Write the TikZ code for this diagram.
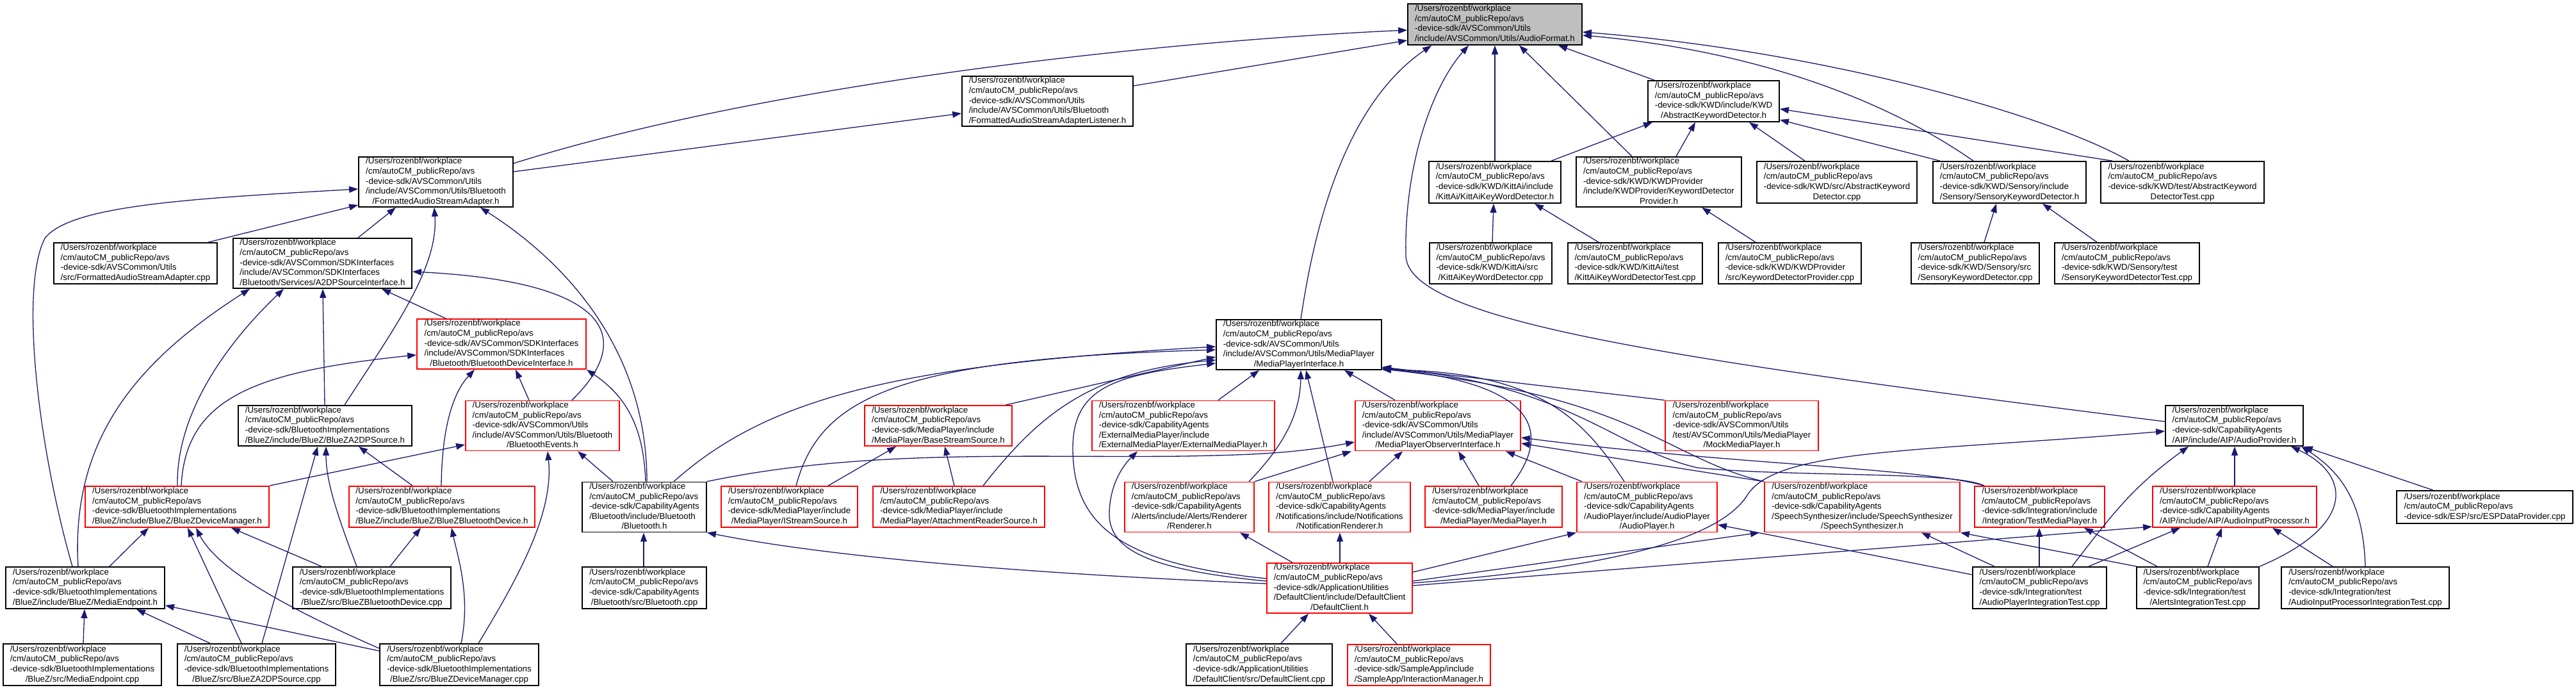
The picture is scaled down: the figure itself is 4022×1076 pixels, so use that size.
\documentclass[tikz,border=0pt]{standalone}
\usepackage{fontspec}
\setmainfont{Liberation Sans}
\usetikzlibrary{arrows.meta}
\definecolor{edgeblue}{HTML}{191970}
\definecolor{nodered}{HTML}{FF0000}
\definecolor{rootgray}{HTML}{BFBFBF}
\newcommand{\dlab}[2]{\begin{tabular}{@{}l@{}}#1\\\multicolumn{1}{@{}c@{}}{#2}\end{tabular}}
\newcommand{\pfx}{/Users/rozenbf/workplace\\/cm/autoCM\_publicRepo/avs}
\tikzset{
  blkbox/.style={draw=black, line width=1.8pt, fill=white, inner xsep=2pt, inner ysep=0pt,
    font={\fontsize{13.3pt}{15.6pt}\selectfont}},
  redbox/.style={blkbox, draw=nodered},
  rootbox/.style={blkbox, fill=rootgray},
  depedge/.style={draw=edgeblue, line width=1.3pt, -{Triangle[length=14pt,width=10pt]}}
}
\begin{document}
\begin{tikzpicture}[x=1pt,y=-1pt]
\useasboundingbox (0,0) rectangle (4022,1076);
% ---------- nodes ----------
\node[rootbox, minimum width=272pt, minimum height=64pt] (root) at (2334,38) {\dlab{\pfx\\-device-sdk/AVSCommon/Utils}{/include/AVSCommon/Utils/AudioFormat.h}};
\node[blkbox, minimum width=267pt, minimum height=78pt] (fasal) at (1635.5,158) {\dlab{\pfx\\-device-sdk/AVSCommon/Utils\\/include/AVSCommon/Utils/Bluetooth}{/FormattedAudioStreamAdapterListener.h}};
\node[blkbox, minimum width=205pt, minimum height=64pt] (akd) at (2675.5,158) {\dlab{\pfx\\-device-sdk/KWD/include/KWD}{/AbstractKeywordDetector.h}};
\node[blkbox, minimum width=241pt, minimum height=78pt] (fasa) at (680.5,284) {\dlab{\pfx\\-device-sdk/AVSCommon/Utils\\/include/AVSCommon/Utils/Bluetooth}{/FormattedAudioStreamAdapter.h}};
\node[blkbox, minimum width=206pt, minimum height=65pt] (kitth) at (2334,284.5) {\dlab{\pfx\\-device-sdk/KWD/KittAi/include}{/KittAi/KittAiKeyWordDetector.h}};
\node[blkbox, minimum width=258pt, minimum height=78pt] (kwdp) at (2590,284) {\dlab{\pfx\\-device-sdk/KWD/KWDProvider\\/include/KWDProvider/KeywordDetector}{Provider.h}};
\node[blkbox, minimum width=250pt, minimum height=65pt] (akdcpp) at (2868,284.5) {\dlab{\pfx\\-device-sdk/KWD/src/AbstractKeyword}{Detector.cpp}};
\node[blkbox, minimum width=239pt, minimum height=65pt] (skdh) at (3137.5,284.5) {\dlab{\pfx\\-device-sdk/KWD/Sensory/include}{/Sensory/SensoryKeywordDetector.h}};
\node[blkbox, minimum width=255pt, minimum height=65pt] (akdtest) at (3407.5,284.5) {\dlab{\pfx\\-device-sdk/KWD/test/AbstractKeyword}{DetectorTest.cpp}};
\node[blkbox, minimum width=255pt, minimum height=64pt] (fasacpp) at (211.5,411) {\dlab{\pfx\\-device-sdk/AVSCommon/Utils}{/src/FormattedAudioStreamAdapter.cpp}};
\node[blkbox, minimum width=279pt, minimum height=78pt] (a2dpsi) at (503.5,411) {\dlab{\pfx\\-device-sdk/AVSCommon/SDKInterfaces\\/include/AVSCommon/SDKInterfaces}{/Bluetooth/Services/A2DPSourceInterface.h}};
\node[blkbox, minimum width=191pt, minimum height=64pt] (kittcpp) at (2327.5,411) {\dlab{\pfx\\-device-sdk/KWD/KittAi/src}{/KittAiKeyWordDetector.cpp}};
\node[blkbox, minimum width=210pt, minimum height=64pt] (kitttest) at (2553,411) {\dlab{\pfx\\-device-sdk/KWD/KittAi/test}{/KittAiKeyWordDetectorTest.cpp}};
\node[blkbox, minimum width=223pt, minimum height=64pt] (kdpcpp) at (2794.5,411) {\dlab{\pfx\\-device-sdk/KWD/KWDProvider}{/src/KeywordDetectorProvider.cpp}};
\node[blkbox, minimum width=200pt, minimum height=64pt] (skdcpp) at (3084,411) {\dlab{\pfx\\-device-sdk/KWD/Sensory/src}{/SensoryKeywordDetector.cpp}};
\node[blkbox, minimum width=226pt, minimum height=64pt] (skdtest) at (3321,411) {\dlab{\pfx\\-device-sdk/KWD/Sensory/test}{/SensoryKeywordDetectorTest.cpp}};
\node[redbox, minimum width=264pt, minimum height=78pt] (bdi) at (783,537) {\dlab{\pfx\\-device-sdk/AVSCommon/SDKInterfaces\\/include/AVSCommon/SDKInterfaces}{/Bluetooth/BluetoothDeviceInterface.h}};
\node[blkbox, minimum width=258pt, minimum height=78pt] (mpi) at (2028,538) {\dlab{\pfx\\-device-sdk/AVSCommon/Utils\\/include/AVSCommon/Utils/MediaPlayer}{/MediaPlayerInterface.h}};
\node[blkbox, minimum width=271pt, minimum height=63pt] (a2dph) at (507.5,664.5) {\dlab{\pfx\\-device-sdk/BluetoothImplementations}{/BlueZ/include/BlueZ/BlueZA2DPSource.h}};
\node[redbox, minimum width=240pt, minimum height=77pt] (bevents) at (847,664.5) {\dlab{\pfx\\-device-sdk/AVSCommon/Utils\\/include/AVSCommon/Utils/Bluetooth}{/BluetoothEvents.h}};
\node[redbox, minimum width=230pt, minimum height=63pt] (bss) at (1465,664.5) {\dlab{\pfx\\-device-sdk/MediaPlayer/include}{/MediaPlayer/BaseStreamSource.h}};
\node[redbox, minimum width=285pt, minimum height=77pt] (emp) at (1847.5,664.5) {\dlab{\pfx\\-device-sdk/CapabilityAgents\\/ExternalMediaPlayer/include}{/ExternalMediaPlayer/ExternalMediaPlayer.h}};
\node[redbox, minimum width=258pt, minimum height=77pt] (mpo) at (2245,664.5) {\dlab{\pfx\\-device-sdk/AVSCommon/Utils\\/include/AVSCommon/Utils/MediaPlayer}{/MediaPlayerObserverInterface.h}};
\node[redbox, minimum width=239pt, minimum height=77pt] (mock) at (2719.5,664.5) {\dlab{\pfx\\-device-sdk/AVSCommon/Utils\\/test/AVSCommon/Utils/MediaPlayer}{/MockMediaPlayer.h}};
\node[blkbox, minimum width=215pt, minimum height=63pt] (aprov) at (3488.5,664.5) {\dlab{\pfx\\-device-sdk/CapabilityAgents}{/AIP/include/AIP/AudioProvider.h}};
\node[redbox, minimum width=287pt, minimum height=64pt] (dmh) at (276.5,791) {\dlab{\pfx\\-device-sdk/BluetoothImplementations}{/BlueZ/include/BlueZ/BlueZDeviceManager.h}};
\node[redbox, minimum width=290pt, minimum height=64pt] (bbdh) at (690,791) {\dlab{\pfx\\-device-sdk/BluetoothImplementations}{/BlueZ/include/BlueZ/BlueZBluetoothDevice.h}};
\node[blkbox, minimum width=194pt, minimum height=77pt] (bth) at (1006,791.5) {\dlab{\pfx\\-device-sdk/CapabilityAgents\\/Bluetooth/include/Bluetooth}{/Bluetooth.h}};
\node[redbox, minimum width=213pt, minimum height=64pt] (issh) at (1232.5,791) {\dlab{\pfx\\-device-sdk/MediaPlayer/include}{/MediaPlayer/IStreamSource.h}};
\node[redbox, minimum width=268pt, minimum height=64pt] (arsh) at (1497,791) {\dlab{\pfx\\-device-sdk/MediaPlayer/include}{/MediaPlayer/AttachmentReaderSource.h}};
\node[redbox, minimum width=202pt, minimum height=77pt] (rendh) at (1857,791.5) {\dlab{\pfx\\-device-sdk/CapabilityAgents\\/Alerts/include/Alerts/Renderer}{/Renderer.h}};
\node[redbox, minimum width=221pt, minimum height=77pt] (nrh) at (2091.5,791.5) {\dlab{\pfx\\-device-sdk/CapabilityAgents\\/Notifications/include/Notifications}{/NotificationRenderer.h}};
\node[redbox, minimum width=214pt, minimum height=64pt] (mph) at (2332,791) {\dlab{\pfx\\-device-sdk/MediaPlayer/include}{/MediaPlayer/MediaPlayer.h}};
\node[redbox, minimum width=219pt, minimum height=77pt] (aph) at (2571.5,791.5) {\dlab{\pfx\\-device-sdk/CapabilityAgents\\/AudioPlayer/include/AudioPlayer}{/AudioPlayer.h}};
\node[redbox, minimum width=305pt, minimum height=77pt] (ssh) at (2907.5,791.5) {\dlab{\pfx\\-device-sdk/CapabilityAgents\\/SpeechSynthesizer/include/SpeechSynthesizer}{/SpeechSynthesizer.h}};
\node[redbox, minimum width=203pt, minimum height=64pt] (tmph) at (3184.5,791) {\dlab{\pfx\\-device-sdk/Integration/include}{/Integration/TestMediaPlayer.h}};
\node[redbox, minimum width=256pt, minimum height=64pt] (aiph) at (3489,791) {\dlab{\pfx\\-device-sdk/CapabilityAgents}{/AIP/include/AIP/AudioInputProcessor.h}};
\node[blkbox, minimum width=275pt, minimum height=51pt] (esp) at (3879.5,791.5) {\dlab{\pfx}{-device-sdk/ESP/src/ESPDataProvider.cpp}};
\node[blkbox, minimum width=248pt, minimum height=65pt] (meh) at (133,917.5) {\dlab{\pfx\\-device-sdk/BluetoothImplementations}{/BlueZ/include/BlueZ/MediaEndpoint.h}};
\node[blkbox, minimum width=247pt, minimum height=65pt] (bbdcpp) at (580.5,917.5) {\dlab{\pfx\\-device-sdk/BluetoothImplementations}{/BlueZ/src/BlueZBluetoothDevice.cpp}};
\node[blkbox, minimum width=194pt, minimum height=65pt] (btcpp) at (1006,917.5) {\dlab{\pfx\\-device-sdk/CapabilityAgents}{/Bluetooth/src/Bluetooth.cpp}};
\node[redbox, minimum width=227pt, minimum height=78pt] (dch) at (2091.5,918) {\dlab{\pfx\\-device-sdk/ApplicationUtilities\\/DefaultClient/include/DefaultClient}{/DefaultClient.h}};
\node[blkbox, minimum width=209pt, minimum height=65pt] (apit) at (3184.5,917.5) {\dlab{\pfx\\-device-sdk/Integration/test}{/AudioPlayerIntegrationTest.cpp}};
\node[blkbox, minimum width=191pt, minimum height=65pt] (ait) at (3431.5,917.5) {\dlab{\pfx\\-device-sdk/Integration/test}{/AlertsIntegrationTest.cpp}};
\node[blkbox, minimum width=262pt, minimum height=65pt] (aipit) at (3693,917.5) {\dlab{\pfx\\-device-sdk/Integration/test}{/AudioInputProcessorIntegrationTest.cpp}};
\node[blkbox, minimum width=247pt, minimum height=65pt] (mecpp) at (128.5,1037.5) {\dlab{\pfx\\-device-sdk/BluetoothImplementations}{/BlueZ/src/MediaEndpoint.cpp}};
\node[blkbox, minimum width=247pt, minimum height=65pt] (a2dpcpp) at (400.5,1037.5) {\dlab{\pfx\\-device-sdk/BluetoothImplementations}{/BlueZ/src/BlueZA2DPSource.cpp}};
\node[blkbox, minimum width=248pt, minimum height=65pt] (dmcpp) at (717,1037.5) {\dlab{\pfx\\-device-sdk/BluetoothImplementations}{/BlueZ/src/BlueZDeviceManager.cpp}};
\node[blkbox, minimum width=228pt, minimum height=65pt] (dccpp) at (1966,1037.5) {\dlab{\pfx\\-device-sdk/ApplicationUtilities}{/DefaultClient/src/DefaultClient.cpp}};
\node[redbox, minimum width=223pt, minimum height=64pt] (imh) at (2215.5,1038) {\dlab{\pfx\\-device-sdk/SampleApp/include}{/SampleApp/InteractionManager.h}};
% ---------- edges: root ----------
\draw[depedge] (fasa.east |- 0,255) .. controls (1200,130) and (1800,65) .. (root.west |- 0,47);
\draw[depedge] (fasal.east |- 0,134) -- (root.west |- 0,63);
\draw[depedge] (fasa.east |- 0,268) -- (fasal.west |- 0,177);
\draw[depedge] (2031,0 |- mpi.north) .. controls (2060,300) and (2120,150) .. (2235,0 |- root.south);
\draw[depedge] (aprov.west |- 0,658) .. controls (2600,560) and (2200,500) .. (2195,400) .. controls (2192,250) and (2240,130) .. (2293,0 |- root.south);
\draw[depedge] (kitth.north) -- (root.south);
\draw[depedge] (2548,0 |- kwdp.north) -- (2372,0 |- root.south);
\draw[depedge] (2583,0 |- akd.north) -- (2433,0 |- root.south);
\draw[depedge] (3081,0 |- skdh.north) .. controls (2950,160) and (2750,80) .. (root.east |- 0,55);
\draw[depedge] (3324,0 |- akdtest.north) .. controls (3200,180) and (2850,80) .. (root.east |- 0,50);
% ---------- KWD ----------
\draw[depedge] (2422,0 |- kitth.north) -- (2580,0 |- akd.south);
\draw[depedge] (2617,0 |- kwdp.north) -- (2647,0 |- akd.south);
\draw[depedge] (2818,0 |- akdcpp.north) -- (2731,0 |- akd.south);
\draw[depedge] (3029,0 |- skdh.north) -- (akd.east |- 0,187);
\draw[depedge] (3298,0 |- akdtest.north) -- (akd.east |- 0,170);
\draw[depedge] (2330,0 |- kittcpp.north) -- (2332,0 |- kitth.south);
\draw[depedge] (2496,0 |- kitttest.north) -- (2396,0 |- kitth.south);
\draw[depedge] (2741,0 |- kdpcpp.north) -- (2657,0 |- kwdp.south);
\draw[depedge] (3098,0 |- skdcpp.north) -- (3117,0 |- skdh.south);
\draw[depedge] (3274,0 |- skdtest.north) -- (3189,0 |- skdh.south);
% ---------- FormattedAudioStreamAdapter.h ----------
\draw[depedge] (113,0 |- meh.north) .. controls (60,700) and (30,450) .. (70,372) .. controls (110,320) and (300,310) .. (fasa.west |- 0,295);
\draw[depedge] (325,0 |- fasacpp.north) -- (fasa.west |- 0,320);
\draw[depedge] (559,0 |- a2dpsi.north) -- (618,0 |- fasa.south);
\draw[depedge] (538,0 |- a2dph.north) .. controls (610,520) and (685,420) .. (678,0 |- fasa.south);
\draw[depedge] (1010,0 |- bth.north) .. controls (1010,560) and (900,420) .. (750,0 |- fasa.south);
% ---------- A2DPSourceInterface.h ----------
\draw[depedge] (122,0 |- meh.north) .. controls (110,680) and (220,560) .. (390,0 |- a2dpsi.south);
\draw[depedge] (277,0 |- dmh.north) .. controls (275,640) and (360,530) .. (443,0 |- a2dpsi.south);
\draw[depedge] (507,0 |- a2dph.north) -- (504,0 |- a2dpsi.south);
\draw[depedge] (696,0 |- bdi.north) -- (596,0 |- a2dpsi.south);
\draw[depedge] (893,0 |- bevents.north) .. controls (990,530) and (960,440) .. (a2dpsi.east |- 0,424);
% ---------- BluetoothDeviceInterface.h ----------
\draw[depedge] (283,0 |- dmh.north) .. controls (290,620) and (400,580) .. (bdi.west |- 0,554);
\draw[depedge] (689,0 |- bbdh.north) .. controls (690,660) and (710,610) .. (741,0 |- bdi.south);
\draw[depedge] (826,0 |- bevents.north) -- (805,0 |- bdi.south);
\draw[depedge] (1008,0 |- bth.north) .. controls (1005,670) and (980,620) .. (bdi.south east);
% ---------- BluetoothEvents.h ----------
\draw[depedge] (dmh.north east) -- (bevents.west |- 0,694);
\draw[depedge] (747,0 |- dmcpp.north) .. controls (810,900) and (865,800) .. (855,0 |- bevents.south);
\draw[depedge] (957,0 |- bth.north) -- (902,0 |- bevents.south);
% ---------- BlueZA2DPSource.h ----------
\draw[depedge] (409,0 |- a2dpcpp.north) -- (496,0 |- a2dph.south);
\draw[depedge] (557,0 |- bbdcpp.north) .. controls (525,800) and (509,750) .. (509,0 |- a2dph.south);
\draw[depedge] (644,0 |- bbdh.north) -- (560,0 |- a2dph.south);
% ---------- BlueZDeviceManager.h ----------
\draw[depedge] (171,0 |- meh.north) -- (232,0 |- dmh.south);
\draw[depedge] (377,0 |- a2dpcpp.north) -- (293,0 |- dmh.south);
\draw[depedge] (dmcpp.west |- 0,1012) .. controls (450,950) and (340,890) .. (306,0 |- dmh.south);
\draw[depedge] (502,0 |- bbdcpp.north) -- (361,0 |- dmh.south);
% ---------- BlueZBluetoothDevice.h ----------
\draw[depedge] (609,0 |- bbdcpp.north) -- (657,0 |- bbdh.south);
\draw[depedge] (720,0 |- dmcpp.north) .. controls (735,930) and (715,870) .. (705,0 |- bbdh.south);
% ---------- MediaEndpoint.h ----------
\draw[depedge] (130,0 |- mecpp.north) -- (132,0 |- meh.south);
\draw[depedge] (328,0 |- a2dpcpp.north) -- (213,0 |- meh.south);
\draw[depedge] (dmcpp.west |- 0,1016) -- (meh.east |- 0,945);
% ---------- Bluetooth.h ----------
\draw[depedge] (1005,0 |- btcpp.north) -- (1005,0 |- bth.south);
\draw[depedge] (dch.west |- 0,911) .. controls (1600,895) and (1300,870) .. (bth.south east);
% ---------- MediaPlayerInterface.h ----------
\draw[depedge] (1052,0 |- bth.north) .. controls (1200,620) and (1400,570) .. (mpi.west |- 0,541);
\draw[depedge] (1243,0 |- issh.north) .. controls (1280,620) and (1400,560) .. (mpi.west |- 0,546);
\draw[depedge] (1570,0 |- bss.north) -- (mpi.west |- 0,557);
\draw[depedge] (1535,0 |- arsh.north) .. controls (1620,650) and (1700,580) .. (mpi.west |- 0,562);
\draw[depedge] (dch.west |- 0,903) .. controls (1750,880) and (1675,820) .. (1675,700) .. controls (1675,605) and (1740,585) .. (mpi.west |- 0,567);
\draw[depedge] (1902,0 |- emp.north) -- (1966,0 |- mpi.south);
\draw[depedge] (1950,0 |- rendh.north) .. controls (2000,700) and (2030,650) .. (2031,0 |- mpi.south);
\draw[depedge] (2081,0 |- nrh.north) -- (2039,0 |- mpi.south);
\draw[depedge] (2178,0 |- mpo.north) -- (2099,0 |- mpi.south);
\draw[depedge] (mock.north west) -- (mpi.east |- 0,573);
\draw[depedge] (2359,0 |- mph.north) .. controls (2420,680) and (2410,600) .. (mpi.east |- 0,575);
\draw[depedge] (2536,0 |- aph.north) .. controls (2470,650) and (2400,580) .. (mpi.east |- 0,577);
\draw[depedge] (ssh.north west) .. controls (2600,715) and (2560,620) .. (mpi.east |- 0,576);
\draw[depedge] (3098,0 |- tmph.north) .. controls (3050,735) and (2800,745) .. (2650,730) .. controls (2520,700) and (2450,600) .. (mpi.east |- 0,574);
% ---------- MediaPlayerObserverInterface.h ----------
\draw[depedge] (bth.north east) .. controls (1350,700) and (1600,715) .. (1850,712) .. controls (1950,710) and (2020,708) .. (mpo.west |- 0,690);
\draw[depedge] (rendh.north east) -- (2110,0 |- mpo.south);
\draw[depedge] (2138,0 |- nrh.north) -- (2190,0 |- mpo.south);
\draw[depedge] (2309,0 |- mph.north) -- (2277,0 |- mpo.south);
\draw[depedge] (2470,0 |- aph.north) -- (2351,0 |- mpo.south);
\draw[depedge] (ssh.north west) -- (mpo.east |- 0,692);
\draw[depedge] (3098,0 |- tmph.north) .. controls (3000,730) and (2700,725) .. (mpo.east |- 0,683);
% ---------- BaseStreamSource.h ----------
\draw[depedge] (1293,0 |- issh.north) -- (1399,0 |- bss.south);
\draw[depedge] (1490,0 |- arsh.north) -- (1475,0 |- bss.south);
% ---------- DefaultClient.h includes ----------
\draw[depedge] (dch.west |- 0,907) .. controls (1800,890) and (1730,860) .. (1732,800) .. controls (1733,760) and (1750,730) .. (1776,0 |- emp.south);
\draw[depedge] (2018,0 |- dch.north) -- (1936,0 |- rendh.south);
\draw[depedge] (2092,0 |- dch.north) -- (2092,0 |- nrh.south);
\draw[depedge] (dch.east |- 0,893) -- (aph.south west);
\draw[depedge] (dch.east |- 0,907) -- (2747,0 |- ssh.south);
\draw[depedge] (dch.east |- 0,910) .. controls (2600,880) and (2700,820) .. (2730,770) .. controls (2780,700) and (3000,705) .. (aprov.west |- 0,673);
\draw[depedge] (dch.east |- 0,914) -- (aiph.west |- 0,822);
% ---------- integration tests ----------
\draw[depedge] (apit.west |- 0,897) -- (aph.east |- 0,819);
\draw[depedge] (3114,0 |- apit.north) -- (3000,0 |- ssh.south);
\draw[depedge] (3336,0 |- ait.north) -- (ssh.south east);
\draw[depedge] (3235,0 |- apit.north) .. controls (3300,800) and (3330,760) .. (3417,0 |- aprov.south);
\draw[depedge] (3489,0 |- aiph.north) -- (3489,0 |- aprov.south);
\draw[depedge] (3528,0 |- ait.north) .. controls (3680,820) and (3670,740) .. (3577,0 |- aprov.south);
\draw[depedge] (3693,0 |- aipit.north) .. controls (3690,790) and (3660,740) .. (3593,0 |- aprov.south);
\draw[depedge] (3799,0 |- esp.north) -- (aprov.south east);
\draw[depedge] (3261,0 |- apit.north) -- (3404,0 |- aiph.south);
\draw[depedge] (3447,0 |- ait.north) -- (3469,0 |- aiph.south);
\draw[depedge] (3642,0 |- aipit.north) -- (3548,0 |- aiph.south);
\draw[depedge] (3184,0 |- apit.north) -- (3184,0 |- tmph.south);
\draw[depedge] (3368,0 |- ait.north) -- (3254,0 |- tmph.south);
% ---------- DefaultClient.h included by ----------
\draw[depedge] (2000,0 |- dccpp.north) -- (2043,0 |- dch.south);
\draw[depedge] (2181,0 |- imh.north) -- (2137,0 |- dch.south);
\end{tikzpicture}
\end{document}
